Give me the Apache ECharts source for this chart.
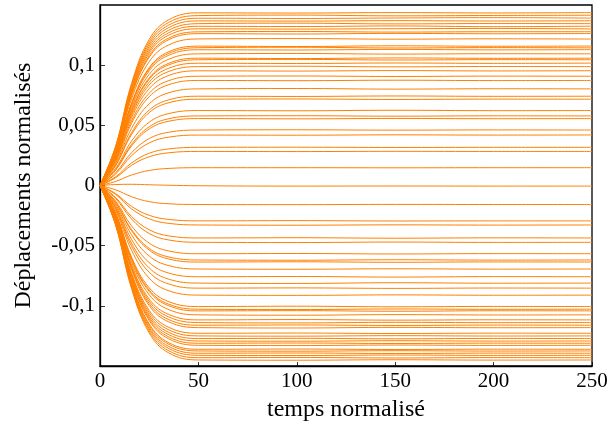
<!DOCTYPE html>
<html>
<head>
<meta charset="utf-8">
<script src="https://cdn.jsdelivr.net/npm/echarts@6/dist/echarts.min.js"></script>
<style>
html,body{margin:0;padding:0;background:#fff;}
#chart{width:609px;height:425px;}
</style>
</head>
<body>
<div id="chart"></div>
<script>
// time samples (temps normalisé)
const timeSteps = [0, 8, 16, 25, 35, 50, 100, 150, 200, 250];

// x / y ticks
const xTicks = [0, 50, 100, 150, 200, 250];
const yTickValues = [-0.1, -0.05, 0, 0.05, 0.1];
const yTickLabels = ['-0,1', '-0,05', '0', '0,05', '0,1'];

// displacement curves above zero
const positiveLines = [
  [0, 0.0330, 0.0847, 0.1213, 0.1378, 0.1435, 0.1433, 0.1437, 0.1434, 0.1437],
  [0, 0.0325, 0.0833, 0.1193, 0.1356, 0.1412, 0.1416, 0.1410, 0.1413, 0.1415],
  [0, 0.0320, 0.0820, 0.1175, 0.1334, 0.1390, 0.1388, 0.1392, 0.1395, 0.1391],
  [0, 0.0315, 0.0807, 0.1156, 0.1313, 0.1368, 0.1366, 0.1370, 0.1367, 0.1369],
  [0, 0.0309, 0.0794, 0.1137, 0.1291, 0.1345, 0.1349, 0.1343, 0.1346, 0.1345],
  [0, 0.0304, 0.0781, 0.1118, 0.1270, 0.1323, 0.1321, 0.1326, 0.1320, 0.1324],
  [0, 0.0299, 0.0768, 0.1100, 0.1250, 0.1302, 0.1300, 0.1303, 0.1305, 0.1301],
  [0, 0.0294, 0.0753, 0.1079, 0.1226, 0.1277, 0.1280, 0.1275, 0.1278, 0.1278],
  [0, 0.0290, 0.0745, 0.1066, 0.1212, 0.1262, 0.1259, 0.1264, 0.1261, 0.1263],
  [0, 0.0280, 0.0719, 0.1029, 0.1169, 0.1218, 0.1221, 0.1216, 0.1219, 0.1217],
  [0, 0.0266, 0.0683, 0.0979, 0.1112, 0.1158, 0.1155, 0.1161, 0.1157, 0.1159],
  [0, 0.0263, 0.0676, 0.0968, 0.1099, 0.1145, 0.1149, 0.1143, 0.1146, 0.1144],
  [0, 0.0259, 0.0666, 0.0953, 0.1083, 0.1128, 0.1126, 0.1131, 0.1127, 0.1129],
  [0, 0.0252, 0.0645, 0.0924, 0.1050, 0.1094, 0.1097, 0.1092, 0.1095, 0.1094],
  [0, 0.0243, 0.0624, 0.0894, 0.1016, 0.1058, 0.1055, 0.1060, 0.1057, 0.1058],
  [0, 0.0240, 0.0617, 0.0883, 0.1003, 0.1045, 0.1048, 0.1043, 0.1046, 0.1045],
  [0, 0.0234, 0.0599, 0.0859, 0.0975, 0.1016, 0.1014, 0.1018, 0.1015, 0.1017],
  [0, 0.0227, 0.0583, 0.0835, 0.0948, 0.0988, 0.0991, 0.0986, 0.0989, 0.0988],
  [0, 0.0219, 0.0562, 0.0805, 0.0915, 0.0953, 0.0951, 0.0955, 0.0952, 0.0954],
  [0, 0.0209, 0.0536, 0.0767, 0.0872, 0.0908, 0.0910, 0.0906, 0.0909, 0.0908],
  [0, 0.0201, 0.0515, 0.0738, 0.0838, 0.0873, 0.0871, 0.0875, 0.0872, 0.0873],
  [0, 0.0185, 0.0474, 0.0679, 0.0771, 0.0803, 0.0806, 0.0801, 0.0804, 0.0803],
  [0, 0.0171, 0.0438, 0.0627, 0.0712, 0.0742, 0.0740, 0.0744, 0.0741, 0.0742],
  [0, 0.0165, 0.0423, 0.0606, 0.0688, 0.0717, 0.0719, 0.0715, 0.0718, 0.0717],
  [0, 0.0143, 0.0368, 0.0526, 0.0598, 0.0623, 0.0621, 0.0625, 0.0622, 0.0623],
  [0, 0.0133, 0.0341, 0.0488, 0.0555, 0.0578, 0.0580, 0.0576, 0.0579, 0.0578],
  [0, 0.0128, 0.0328, 0.0470, 0.0534, 0.0556, 0.0554, 0.0557, 0.0555, 0.0556],
  [0, 0.0106, 0.0272, 0.0390, 0.0443, 0.0461, 0.0463, 0.0460, 0.0462, 0.0461],
  [0, 0.0096, 0.0247, 0.0354, 0.0402, 0.0419, 0.0418, 0.0421, 0.0419, 0.0420],
  [0, 0.0073, 0.0187, 0.0268, 0.0304, 0.0317, 0.0318, 0.0316, 0.0317, 0.0317],
  [0, 0.0065, 0.0167, 0.0239, 0.0272, 0.0283, 0.0282, 0.0284, 0.0283, 0.0283],
  [0, 0.0034, 0.0087, 0.0125, 0.0142, 0.0148, 0.0148, 0.0147, 0.0148, 0.0148]
];

// curve that stays near zero
const zeroLine = [0, 0.0008, 0.0010, 0.0006, 0.0002, -0.0002, -0.0005, -0.0004, -0.0005, -0.0005];

// displacement curves below zero
const negativeLines = [
  [0, -0.0036, -0.0093, -0.0134, -0.0152, -0.0158, -0.0159, -0.0157, -0.0158, -0.0158],
  [0, -0.0068, -0.0173, -0.0248, -0.0282, -0.0294, -0.0292, -0.0295, -0.0294, -0.0294],
  [0, -0.0075, -0.0194, -0.0277, -0.0315, -0.0328, -0.0330, -0.0327, -0.0329, -0.0328],
  [0, -0.0100, -0.0257, -0.0368, -0.0419, -0.0436, -0.0434, -0.0438, -0.0435, -0.0436],
  [0, -0.0109, -0.0278, -0.0399, -0.0453, -0.0472, -0.0474, -0.0470, -0.0473, -0.0472],
  [0, -0.0130, -0.0335, -0.0479, -0.0544, -0.0567, -0.0565, -0.0569, -0.0566, -0.0567],
  [0, -0.0142, -0.0365, -0.0523, -0.0594, -0.0619, -0.0621, -0.0617, -0.0620, -0.0619],
  [0, -0.0146, -0.0375, -0.0537, -0.0611, -0.0636, -0.0634, -0.0638, -0.0635, -0.0636],
  [0, -0.0160, -0.0409, -0.0586, -0.0666, -0.0694, -0.0696, -0.0692, -0.0695, -0.0694],
  [0, -0.0174, -0.0447, -0.0641, -0.0728, -0.0758, -0.0756, -0.0761, -0.0757, -0.0758],
  [0, -0.0187, -0.0478, -0.0685, -0.0779, -0.0811, -0.0814, -0.0808, -0.0812, -0.0811],
  [0, -0.0196, -0.0503, -0.0721, -0.0819, -0.0853, -0.0851, -0.0855, -0.0852, -0.0853],
  [0, -0.0210, -0.0537, -0.0770, -0.0875, -0.0911, -0.0913, -0.0909, -0.0912, -0.0911],
  [0, -0.0231, -0.0594, -0.0850, -0.0966, -0.1006, -0.1003, -0.1008, -0.1005, -0.1006],
  [0, -0.0236, -0.0607, -0.0869, -0.0987, -0.1028, -0.1031, -0.1026, -0.1029, -0.1028],
  [0, -0.0240, -0.0615, -0.0880, -0.1000, -0.1042, -0.1040, -0.1045, -0.1041, -0.1042],
  [0, -0.0247, -0.0634, -0.0908, -0.1032, -0.1075, -0.1078, -0.1073, -0.1076, -0.1075],
  [0, -0.0257, -0.0659, -0.0944, -0.1072, -0.1117, -0.1114, -0.1119, -0.1116, -0.1117],
  [0, -0.0262, -0.0672, -0.0962, -0.1093, -0.1139, -0.1142, -0.1137, -0.1140, -0.1139],
  [0, -0.0267, -0.0685, -0.0981, -0.1115, -0.1161, -0.1159, -0.1163, -0.1160, -0.1161],
  [0, -0.0272, -0.0697, -0.0998, -0.1134, -0.1181, -0.1184, -0.1179, -0.1182, -0.1181],
  [0, -0.0282, -0.0725, -0.1038, -0.1179, -0.1228, -0.1226, -0.1230, -0.1227, -0.1228],
  [0, -0.0288, -0.0738, -0.1056, -0.1200, -0.1250, -0.1252, -0.1248, -0.1251, -0.1250],
  [0, -0.0293, -0.0750, -0.1075, -0.1221, -0.1272, -0.1270, -0.1274, -0.1271, -0.1272],
  [0, -0.0297, -0.0762, -0.1092, -0.1240, -0.1292, -0.1294, -0.1290, -0.1293, -0.1292],
  [0, -0.0302, -0.0773, -0.1108, -0.1259, -0.1311, -0.1309, -0.1313, -0.1310, -0.1311],
  [0, -0.0305, -0.0784, -0.1122, -0.1275, -0.1328, -0.1330, -0.1326, -0.1329, -0.1328],
  [0, -0.0313, -0.0803, -0.1150, -0.1307, -0.1361, -0.1359, -0.1363, -0.1360, -0.1361],
  [0, -0.0316, -0.0811, -0.1162, -0.1320, -0.1375, -0.1377, -0.1373, -0.1376, -0.1375],
  [0, -0.0321, -0.0822, -0.1178, -0.1338, -0.1394, -0.1392, -0.1396, -0.1393, -0.1394],
  [0, -0.0325, -0.0832, -0.1192, -0.1355, -0.1411, -0.1413, -0.1409, -0.1412, -0.1411],
  [0, -0.0329, -0.0844, -0.1209, -0.1374, -0.1431, -0.1429, -0.1433, -0.1430, -0.1431],
  [0, -0.0334, -0.0856, -0.1225, -0.1392, -0.1450, -0.1452, -0.1448, -0.1451, -0.1450]
];

const allLines = positiveLines.concat([zeroLine], negativeLines);
const FONT = '"Liberation Serif", "DejaVu Serif", serif';

const chart = echarts.init(document.getElementById('chart'), null, {renderer: 'canvas'});
chart.setOption({
  animation: false,
  backgroundColor: '#fff',
  grid: {
    left: 100, right: 17, top: 5, bottom: 59,
    show: true, borderColor: '#000', borderWidth: 1.3,
    backgroundColor: 'transparent',
    containLabel: false, outerBoundsMode: 'none'
  },
  xAxis: {
    type: 'value', min: xTicks[0], max: xTicks[xTicks.length - 1], interval: 50,
    name: 'temps normalisé', nameLocation: 'middle', nameGap: 32,
    nameTextStyle: {fontFamily: FONT, fontSize: 24, color: '#000'},
    axisLine: {show: true, onZero: false, lineStyle: {color: '#000', width: 1.3}},
    axisTick: {show: true, inside: true, length: 4, lineStyle: {color: '#000', width: 0.8}},
    axisLabel: {fontFamily: FONT, fontSize: 21, color: '#000', margin: 5},
    splitLine: {show: false}
  },
  yAxis: {
    type: 'value', min: -0.15, max: 0.15, interval: 0.05,
    name: 'Déplacements normalisés', nameLocation: 'middle', nameGap: 64, nameRotate: 90,
    nameTextStyle: {fontFamily: FONT, fontSize: 24, color: '#000'},
    axisLine: {show: true, onZero: false, lineStyle: {color: '#000', width: 1.3}},
    axisTick: {show: true, inside: true, length: 5, lineStyle: {color: '#000', width: 0.8}},
    axisLabel: {
      fontFamily: FONT, fontSize: 21, color: '#000', margin: 5,
      showMinLabel: false, showMaxLabel: false,
      formatter: function (v) {
        for (let i = 0; i < yTickValues.length; i++) {
          if (Math.abs(v - yTickValues[i]) < 1e-9) return yTickLabels[i];
        }
        return '';
      }
    },
    splitLine: {show: false}
  },
  series: allLines.map(function (vals) {
    return {
      type: 'line',
      data: timeSteps.map(function (t, i) { return [t, vals[i]]; }),
      showSymbol: false, symbol: 'none',
      smooth: 0.4,
      lineStyle: {color: '#ff8000', width: 1},
      silent: true
    };
  })
});
</script>
</body>
</html>
